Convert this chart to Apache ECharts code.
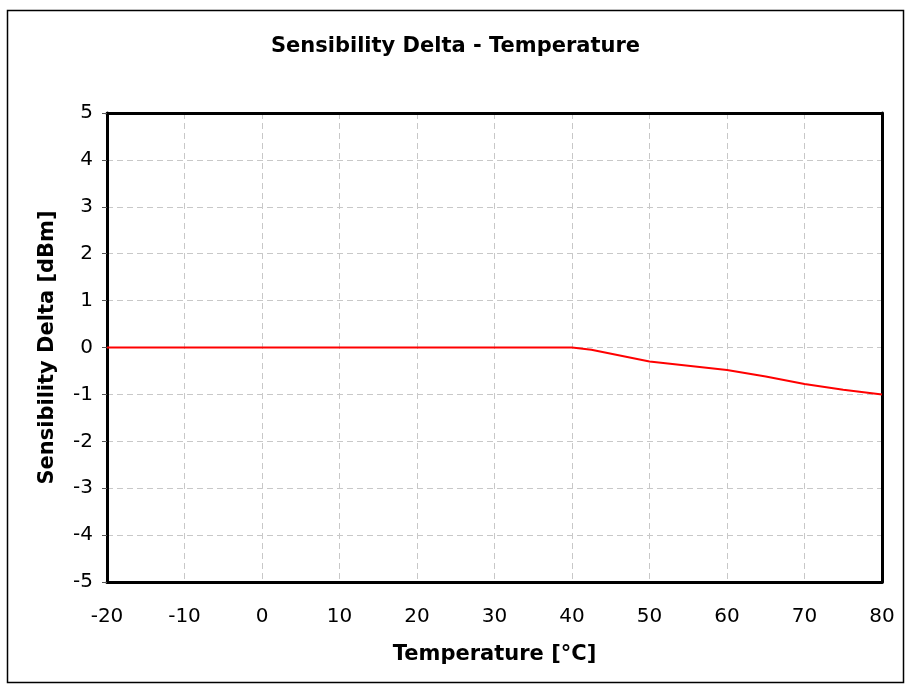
<!DOCTYPE html>
<html>
<head>
<meta charset="utf-8">
<script src="https://cdn.jsdelivr.net/npm/echarts@6/dist/echarts.min.js"></script>
<style>
html,body{margin:0;padding:0;background:#fff;}
#chart{width:911px;height:689px;}
</style>
</head>
<body>
<div id="chart"></div>
<script>
var temperatures = [-20, 40, 42.5, 50, 60, 65, 70, 75, 80];
var sensDelta = [0, 0, -0.05, -0.3, -0.48, -0.62, -0.78, -0.9, -1.0];
var xTicks = { min: -20, max: 80, interval: 10 };
var yTicks = { min: -5, max: 5, interval: 1 };
var titleText = 'Sensibility Delta - Temperature';
var xName = 'Temperature [°C]';
var yName = 'Sensibility Delta [dBm]';

var FONT = 'DejaVu Sans';
var chart = echarts.init(document.getElementById('chart'), null, {renderer: 'canvas'});
var data = temperatures.map(function (t, i) { return [t, sensDelta[i]]; });
var dashed = { show: true, lineStyle: { color: '#c8c8c8', type: [6, 4], width: 1 } };
var thick = { show: true, onZero: false, lineStyle: { color: '#000', width: 3 } };

chart.setOption({
  animation: false,
  backgroundColor: '#fff',
  graphic: [{
    type: 'rect',
    shape: { x: 7.5, y: 10.5, width: 896, height: 672 },
    style: { fill: 'none', stroke: '#000', lineWidth: 1.5 },
    silent: true
  }],
  title: {
    text: titleText,
    left: 'center',
    top: 31,
    textStyle: { fontFamily: FONT, fontSize: 21, fontWeight: 'bold', color: '#000' }
  },
  grid: { left: 107, top: 113, right: 29, bottom: 107, show: false },
  xAxis: [{
    type: 'value',
    min: xTicks.min, max: xTicks.max, interval: xTicks.interval,
    name: xName,
    nameLocation: 'middle',
    nameGap: 62,
    nameTextStyle: { fontFamily: FONT, fontSize: 21, fontWeight: 'bold', color: '#000' },
    axisLine: thick,
    axisTick: { show: false },
    axisLabel: { fontFamily: FONT, fontSize: 20, color: '#000', margin: 25 },
    splitLine: dashed
  }, {
    type: 'value', position: 'top',
    min: xTicks.min, max: xTicks.max, interval: xTicks.interval,
    axisLine: thick, axisTick: { show: false }, axisLabel: { show: false }, splitLine: { show: false }
  }],
  yAxis: [{
    type: 'value',
    min: yTicks.min, max: yTicks.max, interval: yTicks.interval,
    name: yName,
    nameLocation: 'middle',
    nameGap: 49,
    nameRotate: 90,
    nameTextStyle: { fontFamily: FONT, fontSize: 21, fontWeight: 'bold', color: '#000' },
    axisLine: thick,
    axisTick: { show: true, length: 5, lineStyle: { color: '#555', width: 1 } },
    axisLabel: { fontFamily: FONT, fontSize: 20, color: '#000', margin: 14 },
    splitLine: dashed
  }, {
    type: 'value', position: 'right',
    min: yTicks.min, max: yTicks.max, interval: yTicks.interval,
    axisLine: thick, axisTick: { show: false }, axisLabel: { show: false }, splitLine: { show: false }
  }],
  series: [{
    type: 'line',
    data: data,
    showSymbol: false,
    symbol: 'none',
    smooth: false,
    lineStyle: { color: '#ff0000', width: 2 },
    z: 5
  }]
});
</script>
</body>
</html>
